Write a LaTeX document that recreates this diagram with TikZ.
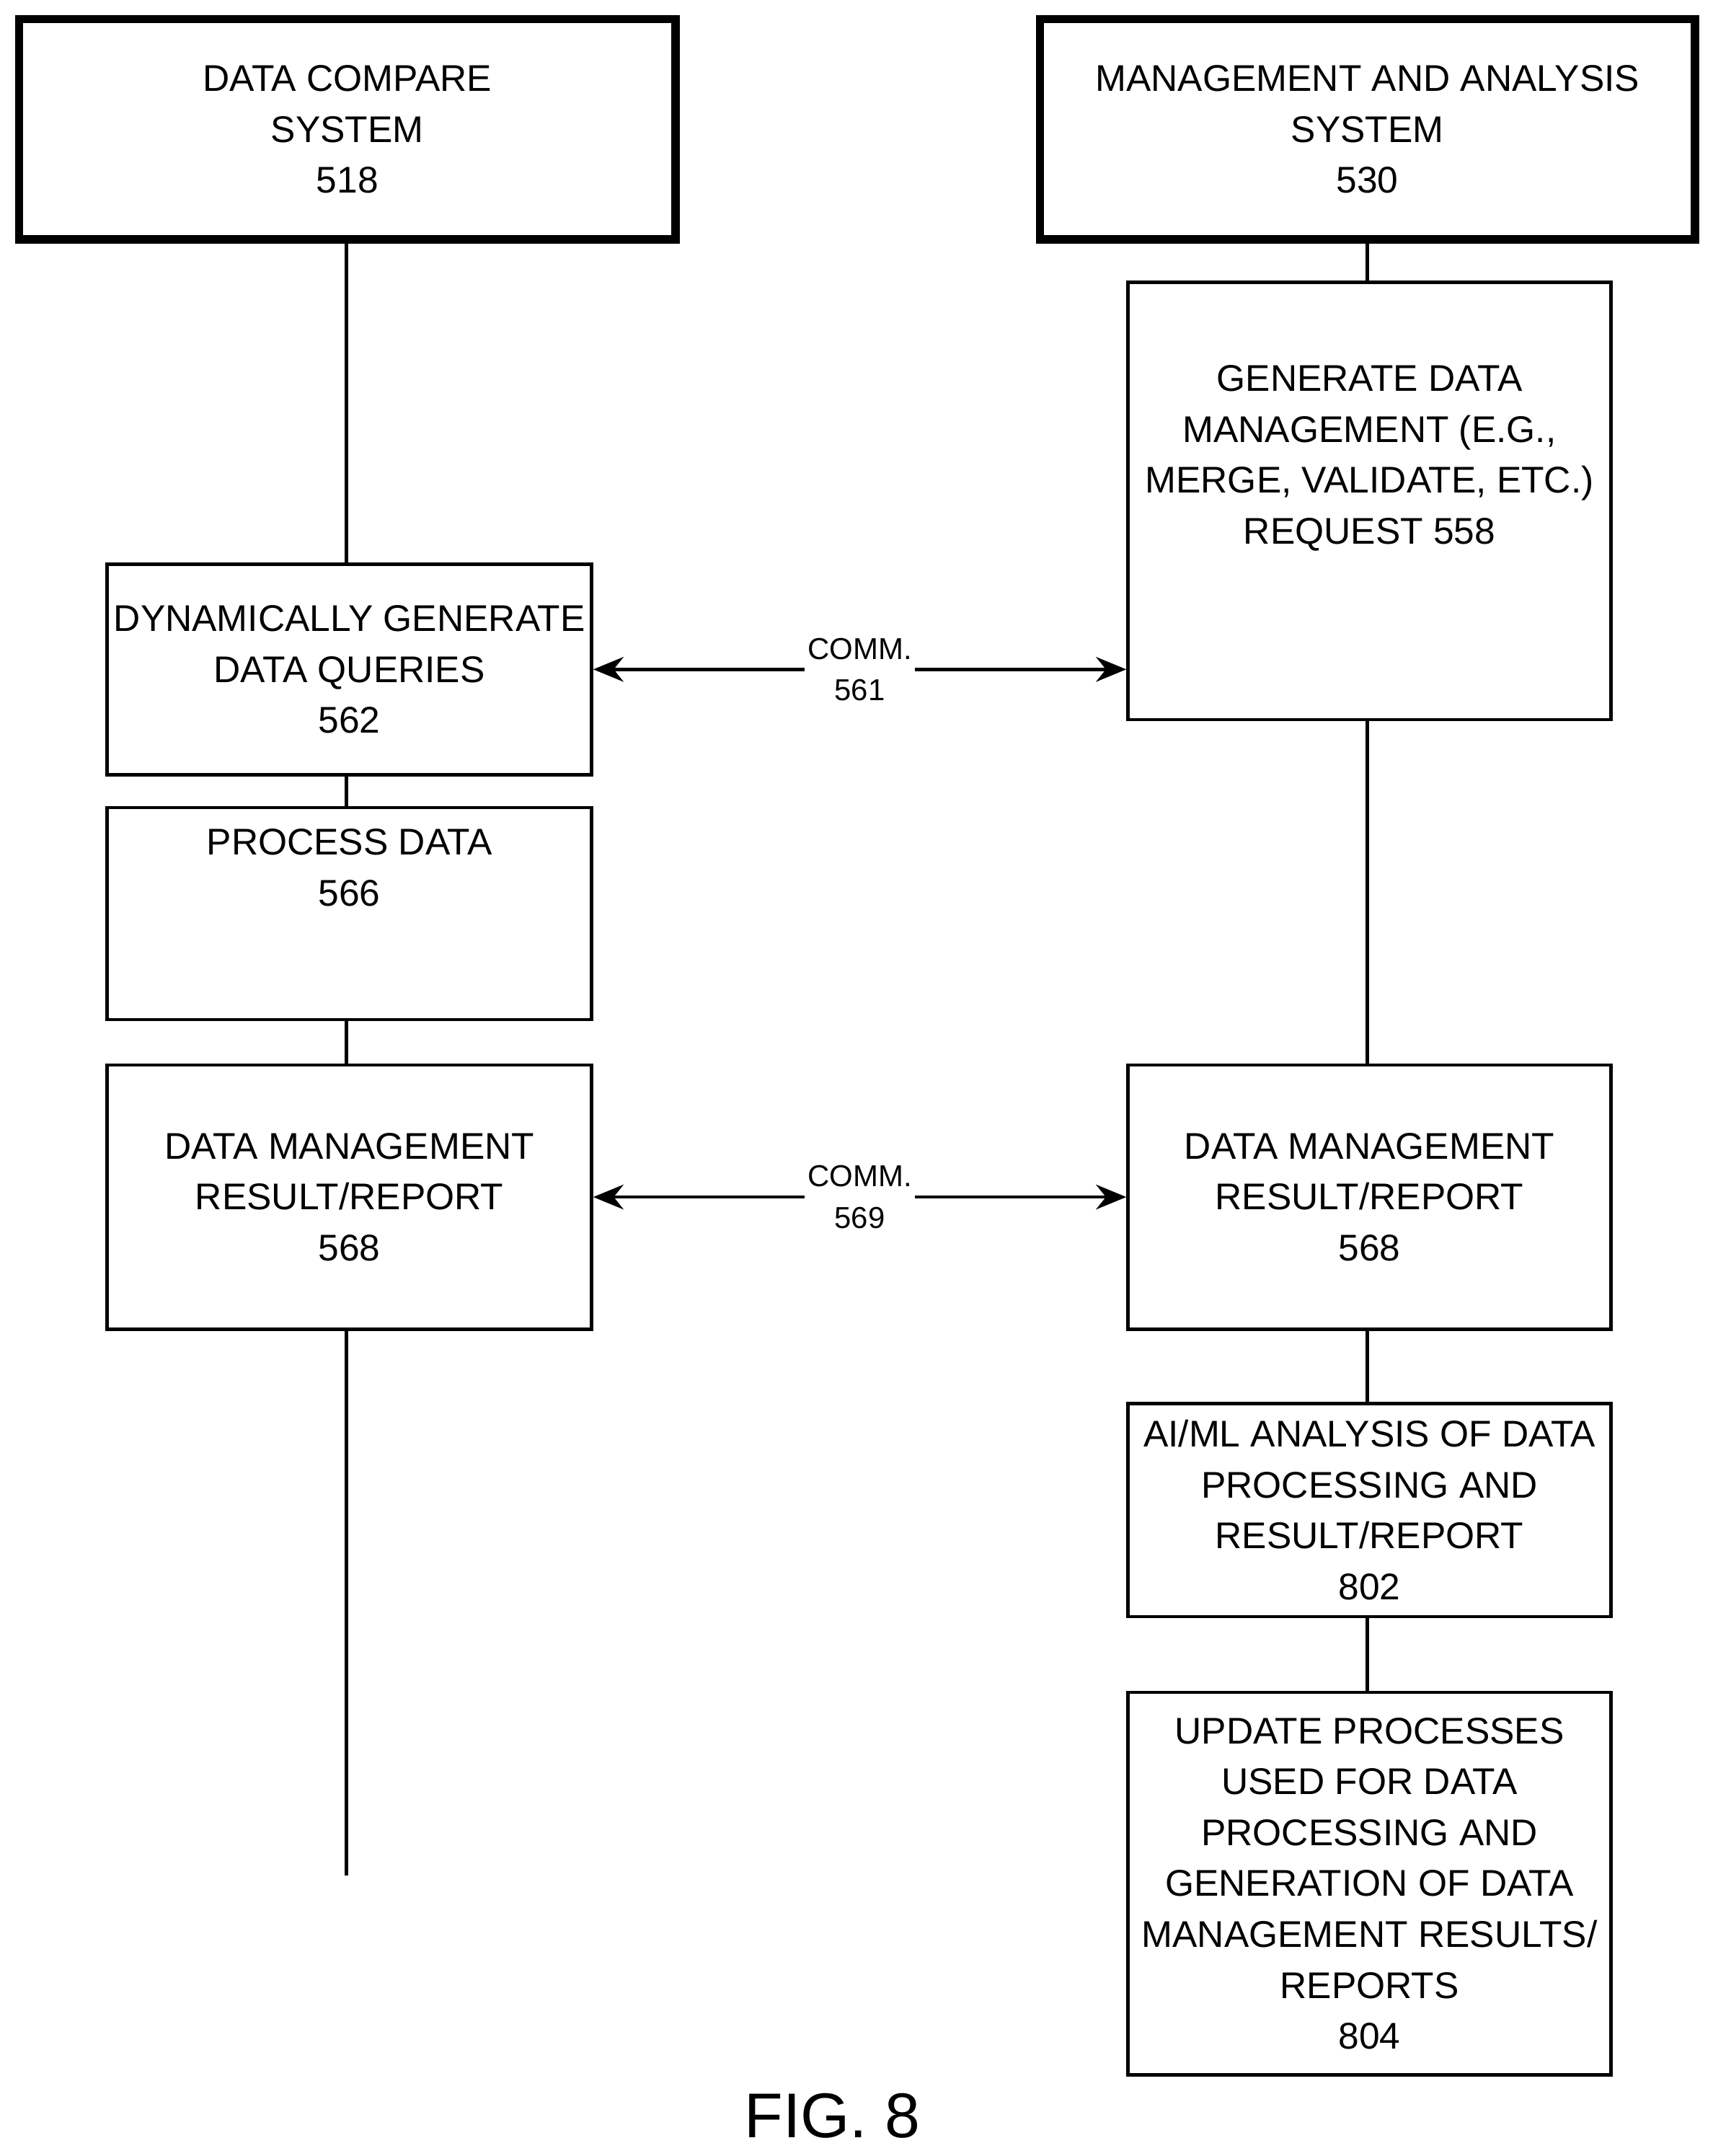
\documentclass[tikz,border=0pt]{standalone}
\usepackage{fontspec}
\setmainfont{Liberation Sans}
\usetikzlibrary{arrows.meta}
\tikzset{every picture/.style={line width=2.5pt}}
\tikzset{
  sysbox/.style={draw,line width=6pt,align=center,inner sep=0pt,font=\fontsize{27}{37}\selectfont},
  stepbox/.style={draw,align=center,inner sep=0pt,font=\fontsize{27}{37}\selectfont},
  commlabel/.style={fill=white,align=center,inner sep=2pt,font=\fontsize{22}{30}\selectfont},
  commarrow/.style={{Stealth[length=22pt,width=18pt]}-{Stealth[length=22pt,width=18pt]}}
}
\begin{document}
\begin{tikzpicture}[x=1pt,y=1pt,yscale=-1]
\useasboundingbox (0,0) rectangle (1245,1567);

%System boxes
\node [sysbox,minimum width=477,minimum height=160] (cmpsys) at (252.5,94) {DATA COMPARE\\SYSTEM\\518};
\node [sysbox,minimum width=476,minimum height=160] (mgmtsys) at (994,94) {MANAGEMENT AND ANALYSIS\\SYSTEM\\530};

%Left column
\node [stepbox,minimum width=352,minimum height=153] (genqry) at (254,486.5) {DYNAMICALLY GENERATE\\DATA QUERIES\\562};
\node [stepbox,minimum width=352,minimum height=154] (procdata) at (254,664) {PROCESS DATA\\566\\[30pt]};
\node [stepbox,minimum width=352,minimum height=192] (resleft) at (254,870) {DATA MANAGEMENT\\RESULT/REPORT\\568};
\coordinate (leftend) at (252,1363);

%Right column
\node [stepbox,minimum width=351,minimum height=318] (genreq) at (995.5,364) {GENERATE DATA\\MANAGEMENT (E.G.,\\MERGE, VALIDATE, ETC.)\\REQUEST 558\\[30pt]};
\node [stepbox,minimum width=351,minimum height=192] (resright) at (995.5,870) {DATA MANAGEMENT\\RESULT/REPORT\\568};
\node [stepbox,minimum width=351,minimum height=155] (aiml) at (995.5,1097.5) {AI/ML ANALYSIS OF DATA\\PROCESSING AND\\RESULT/REPORT\\802};
\node [stepbox,minimum width=351,minimum height=278] (update) at (995.5,1369) {UPDATE PROCESSES\\USED FOR DATA\\PROCESSING AND\\GENERATION OF DATA\\MANAGEMENT RESULTS/\\REPORTS\\804};

%Lifelines
\draw (cmpsys.south -| 252,0) -- (genqry.north -| 252,0);
\draw (genqry.south -| 252,0) -- (procdata.north -| 252,0);
\draw (procdata.south -| 252,0) -- (resleft.north -| 252,0);
\draw (resleft.south -| 252,0) -- (leftend);
\draw (mgmtsys.south -| 994,0) -- (genreq.north -| 994,0);
\draw (genreq.south -| 994,0) -- (resright.north -| 994,0);
\draw (resright.south -| 994,0) -- (aiml.north -| 994,0);
\draw (aiml.south -| 994,0) -- (update.north -| 994,0);

%Communications
\draw [commarrow] (genqry.east) -- (genqry.east -| genreq.west) node [commlabel,pos=0.5] {COMM.\\561};
\draw [commarrow] (resleft.east) -- (resright.west) node [commlabel,pos=0.5] {COMM.\\569};

\node [font=\fontsize{46}{50}\selectfont] (figlabel) at (605,1538) {FIG. 8};
\end{tikzpicture}
\end{document}
